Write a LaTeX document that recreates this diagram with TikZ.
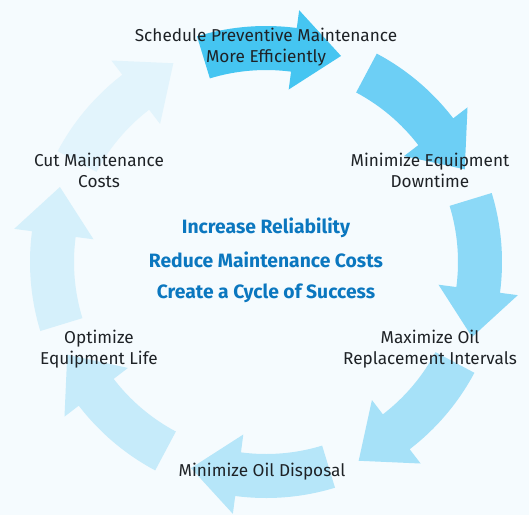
\documentclass[tikz,border=0pt]{standalone}
\usepackage{fontspec}
\setmainfont{Fira Sans}
\definecolor{bg}{HTML}{F5FBFE}
\definecolor{ca}{HTML}{45C5F1}
\definecolor{cb}{HTML}{6DCFF5}
\definecolor{cc}{HTML}{8CD9F7}
\definecolor{cd}{HTML}{A6E1F8}
\definecolor{ce}{HTML}{B6E6F9}
\definecolor{cf}{HTML}{C6EBFA}
\definecolor{cg}{HTML}{D5F0FB}
\definecolor{ch}{HTML}{E2F4FC}
\definecolor{txt}{HTML}{1E2226}
\definecolor{blu}{HTML}{0B77BF}
\tikzset{
  lbl/.style={align=center,font=\fontsize{17.2}{21}\selectfont,text=txt,inner sep=0pt},
  core/.style={font=\bfseries\fontsize{19.3}{20}\selectfont,text=blu,inner sep=0pt}
}
\begin{document}
\begin{tikzpicture}[x=1pt,y=1pt]
\fill[bg] (0,0) rectangle (529,-515);
\useasboundingbox (0,0) rectangle (529,-515);
\begin{scope}[shift={(266,-262)}]
\foreach \k/\col in {0/ca,1/cb,2/cc,3/cd,4/ce,5/cf,6/cg,7/ch} {
  \pgfmathsetmacro\ta{107-45*\k}
  \pgfmathsetmacro\tb{\ta-24.5}
  \pgfmathsetmacro\tt{\ta-37}
  \fill[\col] (\ta:236) arc[start angle=\ta, end angle=\tb, radius=236]
     -- (\tb:254) -- (\tt:219.3) -- (\tb:174) -- (\tb:192)
     arc[start angle=\tb, end angle=\ta, radius=192] -- cycle;
}
\end{scope}
\node[lbl] (s1) at (266,-47.5) {Schedule Preventive Maintenance\\More Efficiently};
\node[lbl] (s2) at (430,-170.5) {Minimize Equipment\\Downtime};
\node[lbl] (s3) at (430,-349.5) {Maximize Oil\\Replacement Intervals};
\node[lbl] (s4) at (262,-472) {Minimize Oil Disposal};
\node[lbl] (s5) at (99,-349.5) {Optimize\\Equipment Life};
\node[lbl] (s6) at (99,-170.5) {Cut Maintenance\\Costs};
\node[core] (c1) at (266,-228) {Increase Reliability};
\node[core] (c2) at (266,-260) {Reduce Maintenance Costs};
\node[core] (c3) at (266,-293) {Create a Cycle of Success};
\end{tikzpicture}
\end{document}
